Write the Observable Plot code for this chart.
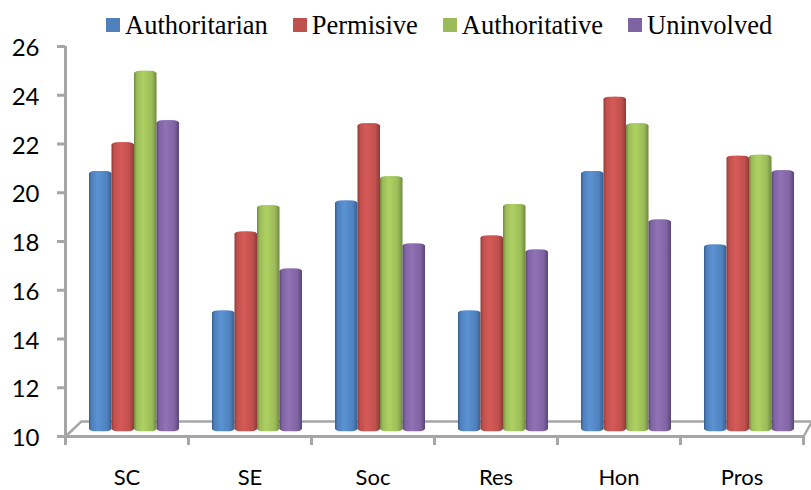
<!DOCTYPE html>
<html><head><meta charset="utf-8">
<script src="https://cdn.jsdelivr.net/npm/d3@7"></script>
<script src="https://cdn.jsdelivr.net/npm/@observablehq/plot@0.6"></script>
<style>
html,body{margin:0;padding:0;background:#fff}
#legend{height:36px;display:flex;align-items:center;padding-left:106px;padding-top:14px;box-sizing:border-box;font:26.5px "Liberation Serif",serif;color:#000;white-space:nowrap;overflow:visible}
#legend .item{display:flex;align-items:center;margin-right:25px}
#legend .sw{width:14px;height:14px;margin-right:5px}
svg{display:block}
</style></head><body>
<div id="legend"></div>
<div id="chart"></div>
<script>
const categories = ["SC","SE","Soc","Res","Hon","Pros"];
const series = ["Authoritarian","Permisive","Authoritative","Uninvolved"];
const authoritarian = [20.87,15.15,19.66,15.15,20.87,17.86];
const permisive = [22.05,18.39,22.83,18.23,23.92,21.5];
const authoritative = [24.98,19.47,20.66,19.52,22.83,21.54];
const uninvolved = [22.95,16.87,17.9,17.65,18.88,20.9];
const yTicks = [10,12,14,16,18,20,22,24,26];
const colors = ["#4f81bd","#c0504d","#9bbb59","#8064a2"];
const light = ["#5b93d3","#d65a57","#aed162","#9072b5"];
const dark = ["#34608f","#8e3a38","#6f8a3d","#5a4578"];
const values = [authoritarian,permisive,authoritative,uninvolved];

const rows = [];
series.forEach((s,si)=>categories.forEach((c,ci)=>rows.push({s,si,c,ci,v:values[si][ci]})));
const barStart = 0.195, barW = 0.183, base = 10.2, axisGray = "#a6a6a6";
const x1 = d=>d.ci+barStart+d.si*barW, x2 = d=>x1(d)+barW;

d3.select("#legend").selectAll(".item").data(series).join("div").attr("class","item")
  .html((d,i)=>`<div class="sw" style="background:${colors[i]}"></div><span>${d}</span>`);

const plot = Plot.plot({
  width:811,height:454,marginLeft:65,marginRight:8,marginTop:10,marginBottom:54,
  style:{background:"transparent",overflow:"visible"},
  x:{domain:[0,6],axis:null},
  y:{domain:[10,26],axis:null},
  color:{domain:series,range:series.map((_,i)=>`url(#g${i})`)},
  marks:[
    // floor of the 3D box
    Plot.ruleY([10.62],{x1:0.13,x2:6.07,stroke:axisGray,strokeWidth:2.5}),
    Plot.link([[0,10,0.13,10.62],[6,10,6.07,10.62]],{x1:d=>d[0],y1:d=>d[1],x2:d=>d[2],y2:d=>d[3],stroke:axisGray,strokeWidth:2.5}),
    // axes
    Plot.axisY({ticks:yTicks,tickSize:8,tickFormat:()=>"",stroke:axisGray,strokeWidth:3,label:null}),
    Plot.axisY({ticks:yTicks,tickSize:0,tickPadding:26,dy:2,fontSize:24,fontFamily:"Lato",color:"#000",label:null,tickFormat:d=>d}),
    Plot.ruleX([0],{y1:10,y2:26,stroke:axisGray,strokeWidth:3}),
    Plot.ruleY([10],{x1:0,x2:6,stroke:axisGray,strokeWidth:3}),
    Plot.axisX({ticks:d3.range(7),tickSize:9,tickFormat:()=>"",stroke:axisGray,strokeWidth:3,label:null}),
    Plot.axisX({ticks:categories.map((_,i)=>i+0.5),tickSize:0,tickPadding:33,tickFormat:d=>categories[d-0.5],fontSize:22,fontFamily:"Lato",color:"#000",label:null}),
    // cylindrical bars with darker rounded caps
    Plot.rect(rows,{x1,x2,y1:()=>base,y2:"v",fill:"s",rx:5,ry:3,style:{filter:"blur(0.5px)"}}),
    Plot.rect(rows,{x1,x2,y1:d=>d.v-0.22,y2:"v",fill:"s",rx:11,ry:3,style:{filter:"brightness(0.72) blur(0.5px)"}})
  ]
});
const defs = d3.select(plot).append("defs");
colors.forEach((c,i)=>{
  const g = defs.append("linearGradient").attr("id","g"+i).attr("x1","0%").attr("x2","100%").attr("y1","0%").attr("y2","0%");
  [[0,dark[i]],[0.12,colors[i]],[0.4,light[i]],[0.8,colors[i]],[1,dark[i]]].forEach(([o,col])=>g.append("stop").attr("offset",o).attr("stop-color",col));
});
document.getElementById("chart").append(plot);
</script>
</body></html>
